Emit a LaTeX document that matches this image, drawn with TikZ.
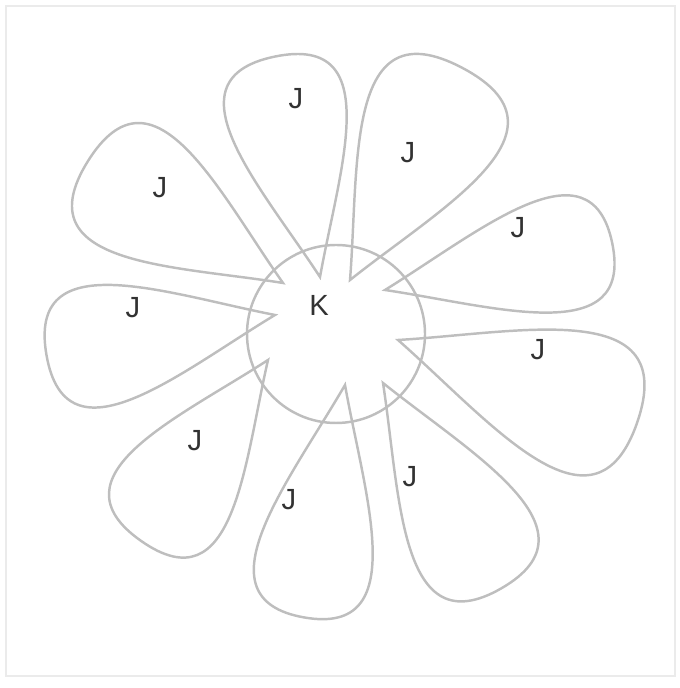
\documentclass[tikz,border=0pt]{standalone}
\usepackage{fontspec}
\setmainfont{Liberation Sans}
\usepackage{tikz}
\usetikzlibrary{calc}
\definecolor{pgray}{RGB}{190,190,190}
\definecolor{lgray}{RGB}{50,50,50}
% petal: tip x, tip y, angle, length, half width
\newcommand{\drawpetal}[5]{
    \begin{scope}[shift={(#1,#2)}, rotate=#3]
        \draw[pgray, line width=0.7pt] (0,0) .. controls (0.45*#4, 0.67*#5) and (#4, 1.9*#5) .. (#4,0)
            .. controls (#4, -1.9*#5) and (0.45*#4, -0.67*#5) .. cycle;
    \end{scope}
}

\begin{document}
\begin{tikzpicture}[lbl/.style={text=lgray, font=\fontsize{8.3}{10}\selectfont, inner sep=0pt}]
    \useasboundingbox (0,0) rectangle (6.79,6.88);
    % Draw frame
    \draw[black!8, line width=0.6pt] (0.06,0.12) rectangle (6.75,6.82);

    % Draw petals
    \foreach \tx/\ty/\ang/\len/\hw in {3.20/4.11/101.5/2.25/0.60, 3.50/4.08/62/2.40/0.70,
        3.85/3.98/11.6/2.32/0.57, 3.98/3.48/-19/2.53/0.70, 3.83/3.05/-60/2.37/0.62,
        3.45/3.03/-100/2.36/0.58, 2.68/3.28/-125/2.21/0.60, 2.75/3.73/-170/2.32/0.60,
        2.83/4.05/148/2.30/0.65} {
        \drawpetal{\tx}{\ty}{\ang}{\len}{\hw}
    }

    % Draw center
    \node[draw=pgray, line width=0.7pt, circle, minimum size=1.78cm] (core) at (3.36,3.54) {};
    \node[lbl] (k) at (3.19,3.83) {K};

    % Draw labels
    \node[lbl] (j1) at (2.96,5.89) {J};
    \node[lbl] (j2) at (4.08,5.35) {J};
    \node[lbl] (j3) at (5.18,4.60) {J};
    \node[lbl] (j4) at (5.38,3.38) {J};
    \node[lbl] (j5) at (4.10,2.11) {J};
    \node[lbl] (j6) at (2.89,1.88) {J};
    \node[lbl] (j7) at (1.95,2.47) {J};
    \node[lbl] (j8) at (1.33,3.80) {J};
    \node[lbl] (j9) at (1.60,5.00) {J};
\end{tikzpicture}
\end{document}
